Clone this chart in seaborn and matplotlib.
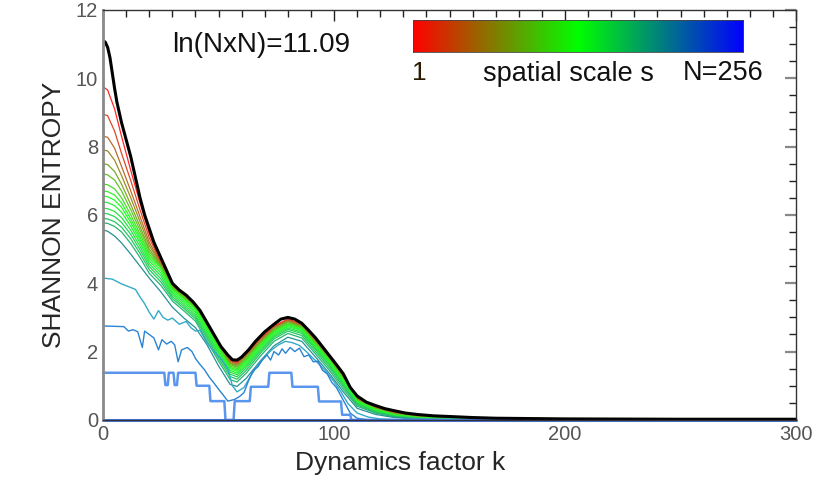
import numpy as np
import pandas as pd
import seaborn as sns
import matplotlib.pyplot as plt
from matplotlib.colors import LinearSegmentedColormap
from matplotlib.ticker import MultipleLocator

# full-image entropy (thick black)
k_black = [0, 1, 2, 3, 4, 5, 6, 8, 10, 12, 14, 16, 18, 20, 22, 25, 28, 30, 33, 36,
           39, 42, 45, 48, 51, 54, 56, 58, 60, 63, 66, 70, 74, 77, 80, 83, 86, 89, 92, 95,
           98, 101, 104, 107, 110, 114, 118, 122, 126, 131, 136, 143, 150, 160, 170, 185, 200, 250, 300]
black = [11.1, 11.05, 10.9, 10.6, 10.15, 9.7, 9.3, 8.7, 8.2, 7.7, 7.1, 6.5, 6.0, 5.6, 5.2, 4.75, 4.3, 4.0, 3.8, 3.65,
         3.45, 3.2, 2.85, 2.5, 2.15, 1.9, 1.76, 1.75, 1.84, 2.05, 2.3, 2.58, 2.8, 2.95, 3.0, 2.95, 2.83, 2.62, 2.4, 2.14,
         1.88, 1.62, 1.35, 0.95, 0.7, 0.52, 0.42, 0.33, 0.27, 0.2, 0.16, 0.12, 0.1, 0.07, 0.05, 0.04, 0.03, 0.02, 0.02]

# common k grid for the smooth per-scale curves
k_grid = [0, 2, 5, 8, 12, 16, 20, 25, 30, 35, 40, 45, 50, 55, 58, 62, 68, 74, 80,
          86, 92, 98, 104, 110, 118, 126, 136, 150, 170, 200, 300]

# entropy per spatial scale (red -> green)
e01 = [9.75, 9.65, 9.1, 8.3, 7.3, 6.35, 5.45, 4.64, 3.96, 3.69, 3.39, 2.82, 2.24, 1.77, 1.69, 1.95, 2.38, 2.75, 2.95,
       2.81, 2.34, 1.86, 1.3, 0.66, 0.38, 0.23, 0.12, 0.07, 0.03, 0.0, 0.0]
e02 = [8.95, 8.9, 8.45, 7.8, 7.0, 6.15, 5.33, 4.6, 3.94, 3.67, 3.37, 2.8, 2.22, 1.74, 1.66, 1.92, 2.36, 2.73, 2.93,
       2.79, 2.32, 1.84, 1.28, 0.64, 0.36, 0.21, 0.11, 0.06, 0.02, 0.0, 0.0]
e03 = [8.3, 8.27, 7.95, 7.42, 6.7, 5.95, 5.2, 4.57, 3.92, 3.65, 3.35, 2.78, 2.2, 1.71, 1.63, 1.89, 2.33, 2.71, 2.91,
       2.77, 2.3, 1.82, 1.26, 0.62, 0.35, 0.2, 0.1, 0.05, 0.02, 0.0, 0.0]
e04 = [7.9, 7.87, 7.6, 7.15, 6.5, 5.8, 5.1, 4.54, 3.9, 3.63, 3.33, 2.76, 2.18, 1.68, 1.6, 1.86, 2.3, 2.68, 2.89,
       2.75, 2.28, 1.8, 1.24, 0.6, 0.34, 0.19, 0.09, 0.05, 0.02, 0.0, 0.0]
e05 = [7.5, 7.47, 7.27, 6.9, 6.3, 5.66, 5.0, 4.51, 3.88, 3.61, 3.31, 2.74, 2.16, 1.65, 1.57, 1.83, 2.27, 2.66, 2.87,
       2.73, 2.26, 1.78, 1.22, 0.58, 0.33, 0.18, 0.09, 0.04, 0.01, 0.0, 0.0]
e06 = [7.2, 7.17, 7.02, 6.7, 6.15, 5.55, 4.93, 4.48, 3.86, 3.59, 3.29, 2.72, 2.14, 1.62, 1.54, 1.8, 2.24, 2.63, 2.84,
       2.71, 2.24, 1.76, 1.2, 0.57, 0.32, 0.17, 0.08, 0.04, 0.01, 0.0, 0.0]
e07 = [6.9, 6.88, 6.76, 6.5, 6.0, 5.44, 4.85, 4.47, 3.84, 3.56, 3.26, 2.7, 2.12, 1.58, 1.5, 1.76, 2.21, 2.6, 2.81,
       2.69, 2.22, 1.74, 1.18, 0.56, 0.31, 0.16, 0.07, 0.03, 0.01, 0.0, 0.0]
e08 = [6.7, 6.68, 6.58, 6.35, 5.88, 5.35, 4.78, 4.45, 3.82, 3.54, 3.24, 2.68, 2.1, 1.54, 1.46, 1.72, 2.18, 2.57, 2.79,
       2.67, 2.2, 1.72, 1.16, 0.55, 0.3, 0.15, 0.07, 0.03, 0.0, 0.0, 0.0]
e09 = [6.55, 6.53, 6.43, 6.22, 5.78, 5.27, 4.72, 4.38, 3.77, 3.49, 3.19, 2.63, 2.05, 1.5, 1.42, 1.68, 2.14, 2.54, 2.76,
       2.64, 2.17, 1.69, 1.13, 0.53, 0.29, 0.14, 0.06, 0.03, 0.0, 0.0, 0.0]
e10 = [6.38, 6.36, 6.27, 6.08, 5.67, 5.18, 4.65, 4.3, 3.72, 3.44, 3.14, 2.58, 2.0, 1.45, 1.37, 1.63, 2.1, 2.5, 2.73,
       2.61, 2.14, 1.66, 1.1, 0.51, 0.28, 0.13, 0.06, 0.02, 0.0, 0.0, 0.0]
e11 = [6.2, 6.18, 6.1, 5.92, 5.55, 5.08, 4.57, 4.22, 3.67, 3.38, 3.08, 2.52, 1.94, 1.4, 1.32, 1.58, 2.05, 2.46, 2.69,
       2.57, 2.1, 1.62, 1.06, 0.49, 0.26, 0.12, 0.05, 0.02, 0.0, 0.0, 0.0]
e12 = [6.05, 6.03, 5.95, 5.78, 5.43, 4.98, 4.49, 4.13, 3.61, 3.32, 3.02, 2.46, 1.87, 1.34, 1.26, 1.52, 2.0, 2.42, 2.65,
       2.53, 2.06, 1.58, 1.02, 0.47, 0.24, 0.11, 0.05, 0.02, 0.0, 0.0, 0.0]
e13 = [5.9, 5.88, 5.8, 5.64, 5.3, 4.87, 4.4, 4.04, 3.55, 3.26, 2.96, 2.39, 1.8, 1.27, 1.19, 1.45, 1.94, 2.37, 2.6,
       2.47, 2.0, 1.52, 0.97, 0.44, 0.22, 0.1, 0.04, 0.01, 0.0, 0.0, 0.0]
e14 = [5.77, 5.75, 5.66, 5.5, 5.16, 4.75, 4.29, 3.94, 3.48, 3.19, 2.89, 2.31, 1.72, 1.18, 1.11, 1.37, 1.86, 2.3, 2.53,
       2.4, 1.93, 1.45, 0.9, 0.4, 0.2, 0.09, 0.03, 0.01, 0.0, 0.0, 0.0]
e15 = [5.56, 5.52, 5.38, 5.18, 4.85, 4.5, 4.15, 3.75, 3.3, 2.98, 2.7, 2.2, 1.58, 1.04, 0.98, 1.22, 1.72, 2.17, 2.42,
       2.3, 1.84, 1.36, 0.82, 0.34, 0.16, 0.07, 0.02, 0.0, 0.0, 0.0, 0.0]

# coarse scales (blue), noisy / stepped
k16 = [0, 4, 8, 11, 14, 16, 18, 20, 22, 24, 26, 28, 30, 33, 36, 38, 40, 42, 45, 48,
       51, 54, 56, 58, 61, 64, 67, 70, 73, 76, 79, 82, 85, 88, 91, 94, 97, 100, 103, 106,
       110, 115, 120, 130]
e16 = [4.15, 4.12, 3.98, 3.9, 3.82, 3.6, 3.4, 3.15, 2.95, 3.2, 3.0, 2.92, 2.98, 2.8, 2.88, 2.7, 2.6, 2.62, 2.25, 2.0,
       1.8, 1.5, 1.0, 0.82, 0.95, 1.3, 1.6, 1.85, 2.05, 2.2, 2.3, 2.26, 2.18, 2.0, 1.8, 1.6, 1.38, 1.12, 0.82, 0.48,
       0.2, 0.08, 0.03, 0.0]

k17 = [0, 9, 11, 13, 15, 17, 18, 20, 22, 24, 25.5, 27.5, 29.5, 31, 32.5, 34, 36.5, 38.5, 40, 42,
       44, 46, 48, 50, 52, 54, 57, 59, 61, 63, 65, 67, 69, 71, 72.5, 74, 76, 77.5, 79, 81,
       83, 85, 87, 89, 91, 93, 95, 97, 99, 101, 103, 105, 107, 110, 115]
e17 = [2.75, 2.73, 2.6, 2.64, 2.58, 2.12, 2.6, 2.5, 2.4, 2.05, 2.35, 2.22, 2.3, 2.2, 1.7, 2.05, 2.12, 2.0, 1.8, 1.62,
       1.46, 1.25, 1.08, 0.9, 0.73, 0.55, 0.6, 0.68, 0.8, 1.15, 1.45, 1.55, 1.76, 1.9, 1.75, 2.0, 1.9, 2.08, 1.95, 2.12,
       2.0, 2.1, 1.85, 1.9, 1.7, 1.72, 1.45, 1.35, 1.1, 0.95, 0.7, 0.45, 0.2, 0.05, 0.0]

k18 = [0, 26.5, 27, 28, 28.5, 30.5, 31, 32, 32.5, 40, 40.5, 46, 46.5, 52.5, 53, 56.5, 57, 63.5, 64, 71.5,
       72, 81.5, 82, 93, 93.5, 103, 103.5, 107, 107.5, 300]
e18 = [1.38, 1.38, 1.02, 1.02, 1.38, 1.38, 1.02, 1.02, 1.38, 1.38, 1.0, 1.0, 0.55, 0.55, 0.0, 0.0, 0.55, 0.55, 0.97, 0.97,
       1.38, 1.38, 0.97, 0.97, 0.54, 0.54, 0.15, 0.15, 0.0, 0.0]

k19 = [0, 300]
e19 = [0.0, 0.0]

scale_cmap = LinearSegmentedColormap.from_list('rgb_scale', ['#ff0000', '#00ff00', '#0000ff'])
cmap_pos = [0.0, 0.08, 0.16, 0.24, 0.3, 0.36, 0.42, 0.47, 0.5, 0.53, 0.56, 0.6, 0.63, 0.67, 0.75]
blue_colors = ['#34aac8', '#2a84d4', '#5a96ee', '#4a7ae6']
blue_widths = [1.0, 1.0, 1.8, 2.2]


def lighten(c, f=0.15):
    return tuple(v + (1 - v) * f for v in c[:3])


sns.set_style('white')
plt.rcParams['font.family'] = ['Liberation Sans', 'DejaVu Sans']

fig = plt.figure(figsize=(8.31, 4.9), dpi=100)
ax = fig.add_axes([0.124, 0.143, 0.834, 0.837])

smooth = [e01, e02, e03, e04, e05, e06, e07, e08, e09, e10, e11, e12, e13, e14, e15]
for vals, t in zip(smooth, cmap_pos):
    sns.lineplot(x=k_grid, y=vals, color=lighten(scale_cmap(t)), linewidth=0.9, ax=ax,
                 estimator=None, sort=False)

for ks, vals, c, w in zip([k16, k17, k18, k19], [e16, e17, e18, e19], blue_colors, blue_widths):
    sns.lineplot(x=ks, y=vals, color=c, linewidth=w, ax=ax, estimator=None, sort=False,
                 clip_on=False)

sns.lineplot(x=k_black, y=black, color='black', linewidth=2.2, ax=ax, estimator=None, sort=False)

ax.set_xlim(0, 300)
ax.set_ylim(0, 12)
ax.xaxis.set_major_locator(MultipleLocator(100))
ax.xaxis.set_minor_locator(MultipleLocator(10))
ax.yaxis.set_major_locator(MultipleLocator(2))
ax.yaxis.set_minor_locator(MultipleLocator(0.5))
ax.tick_params(which='both', direction='in', top=True, right=True, colors='#222',
               labelcolor='#555', labelsize=14.5)
ax.tick_params(which='major', length=8, width=1)
ax.tick_params(which='minor', length=5, width=1)
ax.tick_params(axis='y', which='major', color='#888', width=1.6)

for side in ['top', 'right', 'bottom']:
    ax.spines[side].set_color('#333')
    ax.spines[side].set_linewidth(1)
ax.spines['left'].set_color('#8a8a8a')
ax.spines['left'].set_linewidth(2)

ax.set_xlabel('Dynamics factor k', fontsize=19)
ax.xaxis.set_label_coords(0.428, -0.075)
ax.set_ylabel('SHANNON ENTROPY', fontsize=19, labelpad=7)

ax.text(0.1, 0.915, 'ln(NxN)=11.09', transform=ax.transAxes, fontsize=20,
        ha='left', va='center', color='#111')

# colour bar for spatial scale
cax = ax.inset_axes([0.447, 0.898, 0.477, 0.078])
cax.imshow(np.linspace(0, 1, 256).reshape(1, -1), aspect='auto', cmap=scale_cmap)
cax.set_xticks([])
cax.set_yticks([])
for s in cax.spines.values():
    s.set_color('#444')
    s.set_linewidth(0.6)

ax.text(0.457, 0.846, '1', transform=ax.transAxes, fontsize=19, ha='center', va='center',
        color='#2a1a00')
ax.text(0.671, 0.843, 'spatial scale s', transform=ax.transAxes, fontsize=19.5,
        ha='center', va='center', color='#111')
ax.text(0.894, 0.846, 'N=256', transform=ax.transAxes, fontsize=19.5, ha='center', va='center',
        color='#111')

plt.savefig('out.png', dpi=100)
